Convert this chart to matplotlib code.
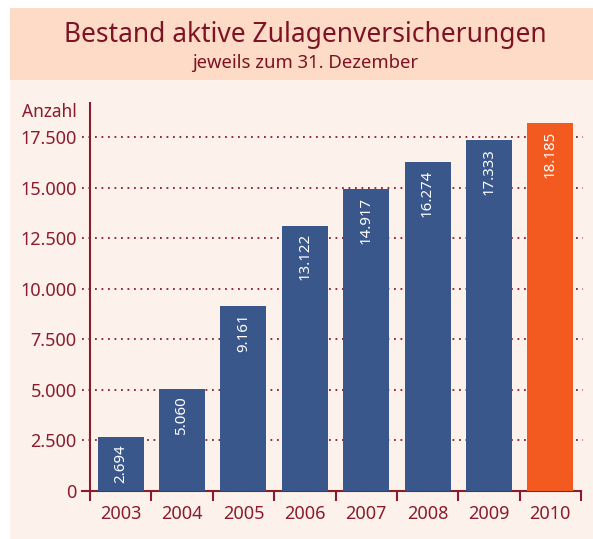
import numpy as np
import matplotlib.pyplot as plt
from matplotlib.patches import Rectangle
from matplotlib.transforms import blended_transform_factory

plt.rcParams['font.family'] = ['Noto Sans', 'DejaVu Sans']

years = ['2003', '2004', '2005', '2006', '2007', '2008', '2009', '2010']
values = [2694, 5060, 9161, 13122, 14917, 16274, 17333, 18185]
labels = ['2.694', '5.060', '9.161', '13.122', '14.917', '16.274', '17.333', '18.185']
yticks = [0, 2500, 5000, 7500, 10000, 12500, 15000, 17500]
ytick_labels = ['0', '2.500', '5.000', '7.500', '10.000', '12.500', '15.000', '17.500']

red = '#8A1C2C'
blue = '#3A578C'
orange = '#F25A1F'

W, H = 593, 539
fig = plt.figure(figsize=(W / 100, H / 100), dpi=100, facecolor='white')

# background panels
fig.patches.append(Rectangle((10 / W, 0), 1, (H - 80) / H, transform=fig.transFigure,
                             facecolor='#FDF1EB', edgecolor='none', zorder=-2))
fig.patches.append(Rectangle((10 / W, (H - 80) / H), 1, 72 / H, transform=fig.transFigure,
                             facecolor='#FDDBC6', edgecolor='none', zorder=-2))

fig.text(305 / W, 1 - 42 / H, 'Bestand aktive Zulagenversicherungen', ha='center',
         va='baseline', fontsize=19, color='#7D1324')
fig.text(305 / W, 1 - 68 / H, 'jeweils zum 31. Dezember', ha='center',
         va='baseline', fontsize=13.3, color='#7D1324')

ax = fig.add_axes([90 / W, 1 - 491 / H, 491 / W, 388 / H])
ax.set_facecolor('none')

x = np.arange(len(years))
colors = [blue] * (len(years) - 1) + [orange]
ax.bar(x, values, width=0.75, color=colors, zorder=3)

for xi, v, lab in zip(x, values, labels):
    ax.annotate(lab, (xi, v), xytext=(0, -5.5), textcoords='offset points',
                rotation=90, ha='center', va='top', color='white', fontsize=10.8, zorder=4)

ax.set_xlim(-0.5, len(years) - 0.5)
ax.set_ylim(0, 19180)

trans = blended_transform_factory(ax.transAxes, ax.transData)
for t in yticks[1:]:
    ax.plot([-8 / 491, 1.004], [t, t], transform=trans, clip_on=False,
            color=red, linestyle=(0, (1, 2.6)), linewidth=1.3, zorder=1)
ax.plot([-8 / 491, 0], [0, 0], transform=trans, clip_on=False, color=red, linewidth=1.5)

ax.set_yticks(yticks)
ax.set_yticklabels(ytick_labels)
ax.tick_params(axis='y', length=0, pad=9.5, labelsize=13, labelcolor=red)

ax.set_xticks(x)
ax.set_xticklabels(years)
ax.tick_params(axis='x', which='major', length=0, pad=10, labelsize=13, labelcolor=red)
ax.set_xticks(np.arange(-0.5, len(years)), minor=True)
ax.tick_params(axis='x', which='minor', length=7.5, width=1.5, color=red, direction='out')

for side in ['top', 'right']:
    ax.spines[side].set_visible(False)
for side in ['left', 'bottom']:
    ax.spines[side].set_color(red)
    ax.spines[side].set_linewidth(1.5)

fig.text(77 / W, 1 - 117 / H, 'Anzahl', ha='right', va='baseline', fontsize=12.5, color=red)

fig.savefig('out.png', dpi=100, facecolor='white')
